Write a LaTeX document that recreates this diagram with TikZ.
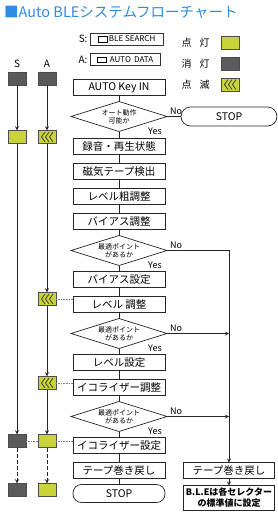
\documentclass[tikz,border=0pt]{standalone}
\usepackage{fontspec}
\setmainfont{Noto Sans CJK JP}
\usepackage{xcolor}
\usetikzlibrary{shapes.geometric, arrows, positioning}

\definecolor{titleblue}{RGB}{45,140,225}
\definecolor{lampon}{RGB}{200,212,55}
\definecolor{lampoff}{RGB}{90,90,90}

% small key symbol used in the S/A legend
\newcommand{\keyicon}{{\fboxsep=0pt\fboxrule=0.5pt\fbox{\rule{0pt}{5pt}\hspace{9pt}}}}

\begin{document}
\begin{tikzpicture}[
  x=1pt, y=-1pt,
  node distance=9pt,
  box/.style={rectangle, draw=black!85, line width=0.7pt, outer sep=0pt,
              minimum width=92pt, minimum height=16pt, inner sep=1pt,
              font=\fontsize{10.5}{12}\selectfont},
  term/.style={box, rounded corners=8.5pt, minimum height=18pt},
  test/.style={diamond, draw=black!85, line width=0.7pt, outer sep=0pt, aspect=3.2,
               inner sep=0pt, minimum width=96pt, minimum height=30pt, align=center,
               font=\fontsize{7}{8}\selectfont},
  keybox/.style={rectangle, draw=black!80, line width=0.6pt, minimum height=12pt,
                 inner sep=1.5pt, font=\fontsize{8}{9}\selectfont},
  lamp/.style={rectangle, draw=black!70, line width=0.5pt, minimum width=18pt,
               minimum height=13pt, inner sep=0pt},
  on/.style={lamp, fill=lampon},
  off/.style={lamp, fill=lampoff},
  blink/.style={lamp, fill=lampon, path picture={
      \foreach \dx in {-4,0,4}
        \draw[line width=0.8pt, black!75]
          ([shift={(\dx+2,5)}]path picture bounding box.center)
          -- ([shift={(\dx-1.5,0)}]path picture bounding box.center)
          -- ([shift={(\dx+2,-5)}]path picture bounding box.center);
  }},
  flow/.style={line width=0.7pt, black!85},
  arrow/.style={->, line width=0.8pt, >=stealth, black!85},
  link/.style={densely dotted, gray, line width=0.6pt},
  yn/.style={font=\fontsize{9}{9}\selectfont, inner sep=1pt},
  label/.style={font=\fontsize{10}{10}\selectfont, inner sep=1pt}
]
\useasboundingbox (0,0) rectangle (278,520);

% title
\node[anchor=west, inner sep=0pt, text=titleblue,
      font=\fontsize{14.5}{14.5}\selectfont] (title) at (4,12.5)
      {■Auto BLEシステムフローチャート};

% key legend
\node[keybox, minimum width=73pt] (searchKey) at (126.5,39) {\keyicon\,BLE SEARCH};
\node[keybox, minimum width=70pt, below=8pt of searchKey.south west, anchor=north west]
      (dataKey) {\keyicon\, AUTO\, DATA};
\node[label, left=1pt of searchKey] (sKeyLab) {S:};
\node[label, left=1pt of dataKey] (aKeyLab) {A:};

% lamp legend
\node[on] (legOn) at (230,42.5) {};
\node[off] (legOff) at (230,63.5) {};
\node[blink] (legBlink) at (230,84.5) {};
\node[label, left=10pt of legOn] {点\hspace{0.8em}灯};
\node[label, left=10pt of legOff] {消\hspace{0.8em}灯};
\node[label, left=10pt of legBlink] {点\hspace{0.8em}滅};

% main flow
\node[box] (key) at (119,87.5) {AUTO Key IN};
\node[test, below=6pt of key] (canauto) {オート動作\\可能か};
\node[box, below=7pt of canauto] (recplay) {録音・再生状態};
\node[box, below=of recplay] (tapedet) {磁気テープ検出};
\node[box, below=of tapedet] (coarse) {レベル粗調整};
\node[box, below=of coarse] (biasadj) {バイアス調整};
\node[test, below=6pt of biasadj] (biasok) {最適ポイント\\があるか};
\node[box, below=6pt of biasok] (biasset) {バイアス設定};
\node[box, below=of biasset] (leveladj) {レベル 調整};
\node[test, below=6pt of leveladj] (levelok) {最適ポイント\\があるか};
\node[box, below=6pt of levelok] (levelset) {レベル設定};
\node[box, below=of levelset] (eqadj) {イコライザー調整};
\node[test, below=6pt of eqadj] (eqok) {最適ポイント\\があるか};
\node[box, below=6pt of eqok] (eqset) {イコライザー設定};
\node[box, below=of eqset] (rewind) {テープ巻き戻し};
\node[term, below=6pt of rewind] (stop) {STOP};

% right branch
\node[term, minimum width=96pt, minimum height=19pt, rounded corners=9.5pt,
      right=14pt of canauto] (stopA) {STOP};
\node[box, minimum width=91pt] (rewindB) at (rewind -| stopA) {テープ巻き戻し};
\node[box, minimum width=91pt, minimum height=25pt, below=7pt of rewindB, align=center,
      font=\fontsize{9}{11}\selectfont\bfseries] (bledef) {B.L.Eは各セレクター\\の標準値に設定};

\foreach \a/\b in {key/canauto, canauto/recplay, recplay/tapedet, tapedet/coarse,
                   coarse/biasadj, biasadj/biasok, biasok/biasset, biasset/leveladj,
                   leveladj/levelok, levelok/levelset, levelset/eqadj, eqadj/eqok,
                   eqok/eqset, eqset/rewind, rewind/stop}
  \draw[flow] (\a) -- (\b);

\draw[flow] (canauto.east) -- (stopA.west);
\draw[arrow] (biasok.east) -| (rewindB.north);
\draw[arrow] (levelok.east) -- (levelok.east -| rewindB.north);
\draw[arrow] (eqok.east) -- (eqok.east -| rewindB.north);
\draw[arrow] (rewindB) -- (bledef);

% Yes / No
\foreach \d in {canauto, biasok, levelok, eqok} {
  \node[yn, anchor=south west] at ([xshift=2pt,yshift=1pt]\d.east) {No};
  \node[yn] at ([xshift=36pt]\d.south) {Yes};
}

% lamps S / A
\node[off] (sOff) at (17,78.5) {};
\node[off] (aOff) at (47,78.5) {};
\node[label, above=3pt of sOff] (sHead) {S};
\node[label, above=3pt of aOff] (aHead) {A};
\node[on] (sOn) at (17,137) {};
\node[blink] (aBlink1) at (47,137) {};
\node[blink] (aBlink2) at (47,299) {};
\node[blink] (aBlink3) at (47,383) {};
\node[off] (sEnd) at (17,441) {};
\node[on] (aEnd) at (47,441) {};
\node[off] (sFin) at (17,490) {};
\node[on] (aFin) at (47,490) {};

\draw[arrow] (sOff) -- (sOn);
\draw[arrow] (sOn) -- (sEnd);
\draw[arrow, dash pattern=on 4pt off 2pt] (sEnd) -- (sFin);
\draw[arrow] (aOff) -- (aBlink1);
\draw[arrow] (aBlink1) -- (aBlink2);
\draw[arrow] (aBlink2) -- (aBlink3);
\draw[arrow] (aBlink3) -- (aEnd);
\draw[arrow, dash pattern=on 4pt off 2pt] (aEnd) -- (aFin);

\draw[link] (aBlink2.east) -- (aBlink2.east -| leveladj.west);
\draw[link] (aBlink3.east) -- (aBlink3.east -| eqadj.west);
\draw[link] (sEnd.east) -- (aEnd.west);
\draw[link] (aEnd.east) -- (aEnd.east -| eqset.west);

\end{tikzpicture}
\end{document}
